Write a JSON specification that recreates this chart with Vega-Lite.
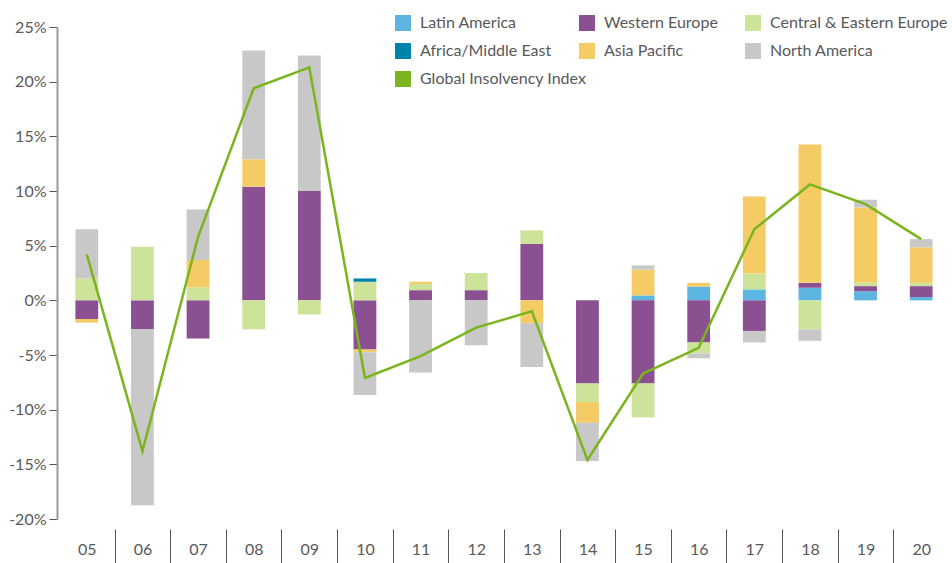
{
  "$schema": "https://vega.github.io/schema/vega-lite/v6.json",
  "width": 890,
  "height": 492,
  "autosize": {"type": "none"},
  "padding": {"left": 59, "top": 27, "right": 3, "bottom": 44},
  "config": {
    "view": {"stroke": null},
    "font": "Lato",
    "axisY": {
      "values": [-20, -15, -10, -5, 0, 5, 10, 15, 20, 25],
      "labelExpr": "datum.value + '%'",
      "grid": false,
      "title": null,
      "offset": 2,
      "domainColor": "#9a9a9a",
      "domainWidth": 2,
      "tickColor": "#555555",
      "tickSize": 8,
      "tickWidth": 1,
      "labelFontSize": 16,
      "labelColor": "#58595b",
      "labelPadding": 3
    }
  },
  "datasets": {
    "bars": [
      {"year": "05", "region": "Western Europe", "ord": 2, "value": -1.7},
      {"year": "05", "region": "Central & Eastern Europe", "ord": 3, "value": 2.0},
      {"year": "05", "region": "Asia Pacific", "ord": 5, "value": -0.35},
      {"year": "05", "region": "North America", "ord": 6, "value": 4.5},
      {"year": "06", "region": "Western Europe", "ord": 2, "value": -2.65},
      {"year": "06", "region": "Central & Eastern Europe", "ord": 3, "value": 4.9},
      {"year": "06", "region": "North America", "ord": 6, "value": -16.1},
      {"year": "07", "region": "Western Europe", "ord": 2, "value": -3.5},
      {"year": "07", "region": "Central & Eastern Europe", "ord": 3, "value": 1.2},
      {"year": "07", "region": "Asia Pacific", "ord": 5, "value": 2.5},
      {"year": "07", "region": "North America", "ord": 6, "value": 4.6},
      {"year": "08", "region": "Western Europe", "ord": 2, "value": 10.4},
      {"year": "08", "region": "Central & Eastern Europe", "ord": 3, "value": -2.65},
      {"year": "08", "region": "Asia Pacific", "ord": 5, "value": 2.5},
      {"year": "08", "region": "North America", "ord": 6, "value": 9.95},
      {"year": "09", "region": "Western Europe", "ord": 2, "value": 10.0},
      {"year": "09", "region": "Central & Eastern Europe", "ord": 3, "value": -1.3},
      {"year": "09", "region": "North America", "ord": 6, "value": 12.4},
      {"year": "10", "region": "Western Europe", "ord": 2, "value": -4.5},
      {"year": "10", "region": "Central & Eastern Europe", "ord": 3, "value": 1.7},
      {"year": "10", "region": "Africa/Middle East", "ord": 4, "value": 0.3},
      {"year": "10", "region": "Asia Pacific", "ord": 5, "value": -0.25},
      {"year": "10", "region": "North America", "ord": 6, "value": -3.9},
      {"year": "11", "region": "Western Europe", "ord": 2, "value": 0.93},
      {"year": "11", "region": "Central & Eastern Europe", "ord": 3, "value": 0.57},
      {"year": "11", "region": "Asia Pacific", "ord": 5, "value": 0.2},
      {"year": "11", "region": "North America", "ord": 6, "value": -6.6},
      {"year": "12", "region": "Western Europe", "ord": 2, "value": 0.93},
      {"year": "12", "region": "Central & Eastern Europe", "ord": 3, "value": 1.57},
      {"year": "12", "region": "North America", "ord": 6, "value": -4.1},
      {"year": "13", "region": "Western Europe", "ord": 2, "value": 5.15},
      {"year": "13", "region": "Central & Eastern Europe", "ord": 3, "value": 1.25},
      {"year": "13", "region": "Asia Pacific", "ord": 5, "value": -2.1},
      {"year": "13", "region": "North America", "ord": 6, "value": -4.0},
      {"year": "14", "region": "Western Europe", "ord": 2, "value": -7.6},
      {"year": "14", "region": "Central & Eastern Europe", "ord": 3, "value": -1.7},
      {"year": "14", "region": "Asia Pacific", "ord": 5, "value": -1.9},
      {"year": "14", "region": "North America", "ord": 6, "value": -3.5},
      {"year": "15", "region": "Latin America", "ord": 1, "value": 0.45},
      {"year": "15", "region": "Western Europe", "ord": 2, "value": -7.6},
      {"year": "15", "region": "Central & Eastern Europe", "ord": 3, "value": -3.1},
      {"year": "15", "region": "Asia Pacific", "ord": 5, "value": 2.35},
      {"year": "15", "region": "North America", "ord": 6, "value": 0.4},
      {"year": "16", "region": "Latin America", "ord": 1, "value": 1.25},
      {"year": "16", "region": "Western Europe", "ord": 2, "value": -3.85},
      {"year": "16", "region": "Central & Eastern Europe", "ord": 3, "value": -1.0},
      {"year": "16", "region": "Asia Pacific", "ord": 5, "value": 0.35},
      {"year": "16", "region": "North America", "ord": 6, "value": -0.45},
      {"year": "17", "region": "Latin America", "ord": 1, "value": 1.0},
      {"year": "17", "region": "Western Europe", "ord": 2, "value": -2.8},
      {"year": "17", "region": "Central & Eastern Europe", "ord": 3, "value": 1.45},
      {"year": "17", "region": "Asia Pacific", "ord": 5, "value": 7.05},
      {"year": "17", "region": "North America", "ord": 6, "value": -1.05},
      {"year": "18", "region": "Latin America", "ord": 1, "value": 1.15},
      {"year": "18", "region": "Western Europe", "ord": 2, "value": 0.45},
      {"year": "18", "region": "Central & Eastern Europe", "ord": 3, "value": -2.65},
      {"year": "18", "region": "Asia Pacific", "ord": 5, "value": 12.65},
      {"year": "18", "region": "North America", "ord": 6, "value": -1.05},
      {"year": "19", "region": "Latin America", "ord": 1, "value": 0.83},
      {"year": "19", "region": "Western Europe", "ord": 2, "value": 0.47},
      {"year": "19", "region": "Central & Eastern Europe", "ord": 3, "value": 0.3},
      {"year": "19", "region": "Asia Pacific", "ord": 5, "value": 6.9},
      {"year": "19", "region": "North America", "ord": 6, "value": 0.7},
      {"year": "20", "region": "Latin America", "ord": 1, "value": 0.3},
      {"year": "20", "region": "Western Europe", "ord": 2, "value": 1.0},
      {"year": "20", "region": "Central & Eastern Europe", "ord": 3, "value": 0.3},
      {"year": "20", "region": "Asia Pacific", "ord": 5, "value": 3.25},
      {"year": "20", "region": "North America", "ord": 6, "value": 0.75}
    ],
    "index": [
      {"year": "05", "series": "Global Insolvency Index", "value": 4.2},
      {"year": "06", "series": "Global Insolvency Index", "value": -13.8},
      {"year": "07", "series": "Global Insolvency Index", "value": 5.8},
      {"year": "08", "series": "Global Insolvency Index", "value": 19.4},
      {"year": "09", "series": "Global Insolvency Index", "value": 21.3},
      {"year": "10", "series": "Global Insolvency Index", "value": -7.1},
      {"year": "11", "series": "Global Insolvency Index", "value": -5.1},
      {"year": "12", "series": "Global Insolvency Index", "value": -2.5},
      {"year": "13", "series": "Global Insolvency Index", "value": -1.0},
      {"year": "14", "series": "Global Insolvency Index", "value": -14.6},
      {"year": "15", "series": "Global Insolvency Index", "value": -6.7},
      {"year": "16", "series": "Global Insolvency Index", "value": -4.35},
      {"year": "17", "series": "Global Insolvency Index", "value": 6.5},
      {"year": "18", "series": "Global Insolvency Index", "value": 10.6},
      {"year": "19", "series": "Global Insolvency Index", "value": 8.8},
      {"year": "20", "series": "Global Insolvency Index", "value": 5.6}
    ]
  },
  "layer": [
    {
      "data": {"name": "bars"},
      "mark": {"type": "bar"},
      "encoding": {
        "x": {
          "field": "year",
          "type": "nominal",
          "scale": {"paddingInner": 0.59, "paddingOuter": 0.295},
          "axis": {
            "title": null,
            "domain": false,
            "grid": false,
            "tickBand": "center",
            "tickOffset": 27.8,
            "labelOffset": -27.8,
            "tickOpacity": {"condition": {"test": "datum.value === '20'", "value": 0}, "value": 1},
            "tickColor": "#555555",
            "tickWidth": 1,
            "tickSize": 34,
            "offset": 10,
            "labelPadding": -22,
            "labelAngle": 0,
            "labelFontSize": 16,
            "labelColor": "#58595b"
          }
        },
        "y": {"field": "value", "type": "quantitative", "stack": "zero", "scale": {"domain": [-20, 25], "nice": false, "zero": false}},
        "fill": {
          "field": "region",
          "type": "nominal",
          "scale": {
            "domain": ["Latin America", "Africa/Middle East", "Western Europe", "Asia Pacific", "Central & Eastern Europe", "North America"],
            "range": ["#5db5e2", "#0083a9", "#8a5092", "#f5cb66", "#cde39a", "#c8c8c8"]
          },
          "legend": {
            "title": null,
            "orient": "none",
            "legendX": 336,
            "legendY": -12,
            "columns": 3,
            "symbolType": "square",
            "symbolSize": 256,
            "symbolStrokeWidth": 0,
            "labelFontSize": 16,
            "labelColor": "#58595b",
            "labelLimit": 0,
            "labelOffset": 9,
            "rowPadding": 12,
            "columnPadding": 27,
            "padding": 0
          }
        },
        "order": {"field": "ord", "type": "quantitative"}
      }
    },
    {
      "mark": {"type": "rule", "color": "#555555", "strokeWidth": 1.5},
      "encoding": {"y": {"datum": 0}}
    },
    {
      "data": {"name": "index"},
      "mark": {"type": "line", "strokeWidth": 2.5},
      "encoding": {
        "x": {"field": "year", "type": "nominal"},
        "y": {"field": "value", "type": "quantitative"},
        "stroke": {
          "field": "series",
          "type": "nominal",
          "scale": {"range": ["#7ab51d"]},
          "legend": {
            "title": null,
            "orient": "none",
            "legendX": 336,
            "legendY": 44,
            "symbolType": "square",
            "symbolSize": 256,
            "labelFontSize": 16,
            "labelColor": "#58595b",
            "labelLimit": 0,
            "labelOffset": 9,
            "padding": 0,
            "encode": {"symbols": {"update": {"fill": {"value": "#7ab51d"}, "strokeWidth": {"value": 0}}}}
          }
        }
      }
    }
  ]
}
